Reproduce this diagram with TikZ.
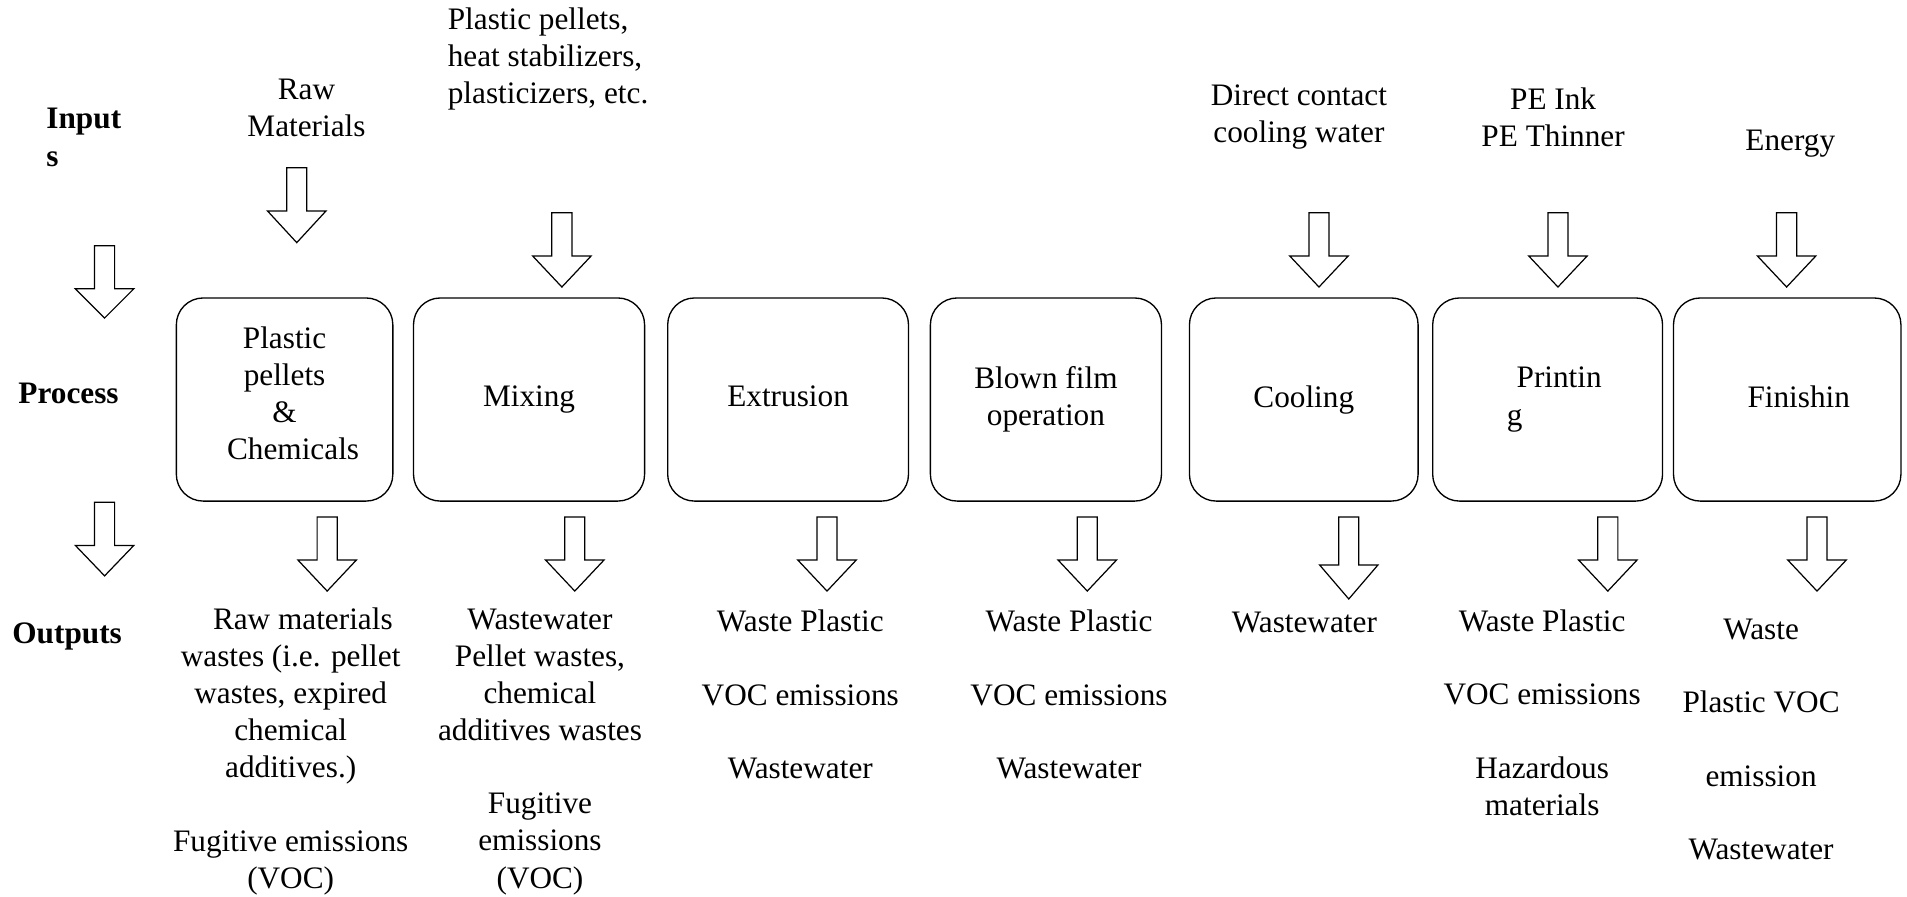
\documentclass[tikz,border=0pt]{standalone}
\usepackage{fontspec}
\setmainfont{Liberation Serif}
\begin{document}
\begin{tikzpicture}[x=1pt,y=-1pt,
    every node/.style={inner sep=0pt, font=\fontsize{25.7}{30.5}\selectfont},
    procbox/.style={draw, line width=1.1pt, rounded corners=22pt, minimum height=167pt, align=center},
    txt/.style={align=center},
    rowlbl/.style={anchor=west, align=left, font=\fontsize{25.7}{30.5}\selectfont\bfseries},
    hollow/.style={draw, line width=1pt, line join=miter}]
\useasboundingbox (0,0) rectangle (1568,737);

% row labels
\node[rowlbl] (inputs) at (38,113) {Input\\s};
\node[rowlbl] (process) at (15,323.4) {Process};
\node[rowlbl] (outputs) at (10,523.5) {Outputs};

% process boxes
\node[procbox, minimum width=178pt] (pellets) at (234,328.5) {Plastic\\pellets\\\&\\\hspace*{14pt}Chemicals\rule[-10pt]{0pt}{0pt}};
\node[procbox, minimum width=190pt] (mixing) at (435,328.5) {Mixing};
\node[procbox, minimum width=198pt] (extrusion) at (648,328.5) {Extrusion\rule[-5pt]{0pt}{0pt}};
\node[procbox, minimum width=190pt] (blown) at (860,328.5) {Blown film\\operation};
\node[procbox, minimum width=188pt] (cooling) at (1072,328.5) {Cooling};
\node[procbox, minimum width=189pt, align=left] (printing) at (1272.5,328.5) {\hspace*{19pt}Printin\\\hspace*{11pt}g};
\node[procbox, minimum width=187pt] (finishing) at (1469.5,328.5) {\hspace*{19pt}Finishin\rule[-5pt]{0pt}{0pt}};

% inputs
\node[txt] (inraw) at (252,88.5) {Raw\\Materials};
\node[anchor=west, align=left] (inmix) at (368,48.6) {Plastic pellets,\\heat stabilizers,\\plasticizers, etc.};
\node[txt] (incool) at (1068,96) {Direct contact\\cooling water};
\node[txt] (inprint) at (1277,96.6) {PE Ink\\PE Thinner};
\node[txt] (infinish) at (1472,118) {Energy};

% outputs
\node[txt] (outpellets) at (239,618) {\hspace*{20pt}Raw materials\\wastes (i.e. pellet\\wastes, expired\\chemical\\additives.)\\[30pt]Fugitive emissions\\(VOC)};
\node[txt] (outmix) at (444,618) {Wastewater\\Pellet wastes,\\chemical\\additives wastes\\[30pt]Fugitive\\emissions\\(VOC)};
\node[txt] (outextr) at (658,571) {Waste Plastic\\[30pt]VOC emissions\\[30pt]Wastewater};
\node[txt] (outblown) at (879,571) {Waste Plastic\\[30pt]VOC emissions\\[30pt]Wastewater};
\node[txt] (outcool) at (1072.5,511.5) {Wastewater};
\node[txt] (outprint) at (1268,586) {Waste Plastic\\[30pt]VOC emissions\\[30pt]Hazardous\\materials};
\node[txt] (outfinish) at (1448,608) {Waste\\[30pt]Plastic VOC\\[30pt]emission\\[30pt]Wastewater};

% hollow arrows: x / top / shaft / head
\foreach \ax/\ay/\sh/\hd in {86/202/35.5/24, 244/138/35.5/26, 462/175/35.5/25.5,
    1084.5/175/35.5/25.5, 1281/175/35.5/25.5, 1469/175/35.5/25.5,
    86/413/35.5/25, 269/425/35.5/25.5, 472.6/425/35.5/25.5, 680/425/35.5/25.5,
    894/425/35.5/25.5, 1109/425/39.5/28, 1322/425/35.5/25.5, 1494/425/35.5/25.5}
  \draw[hollow] (\ax-8.25,\ay) -- ++(16.5,0) -- ++(0,\sh) -- ++(15.75,0)
      -- ++(-24,\hd) -- ++(-24,-\hd) -- ++(15.75,0) -- cycle;
\end{tikzpicture}
\end{document}
